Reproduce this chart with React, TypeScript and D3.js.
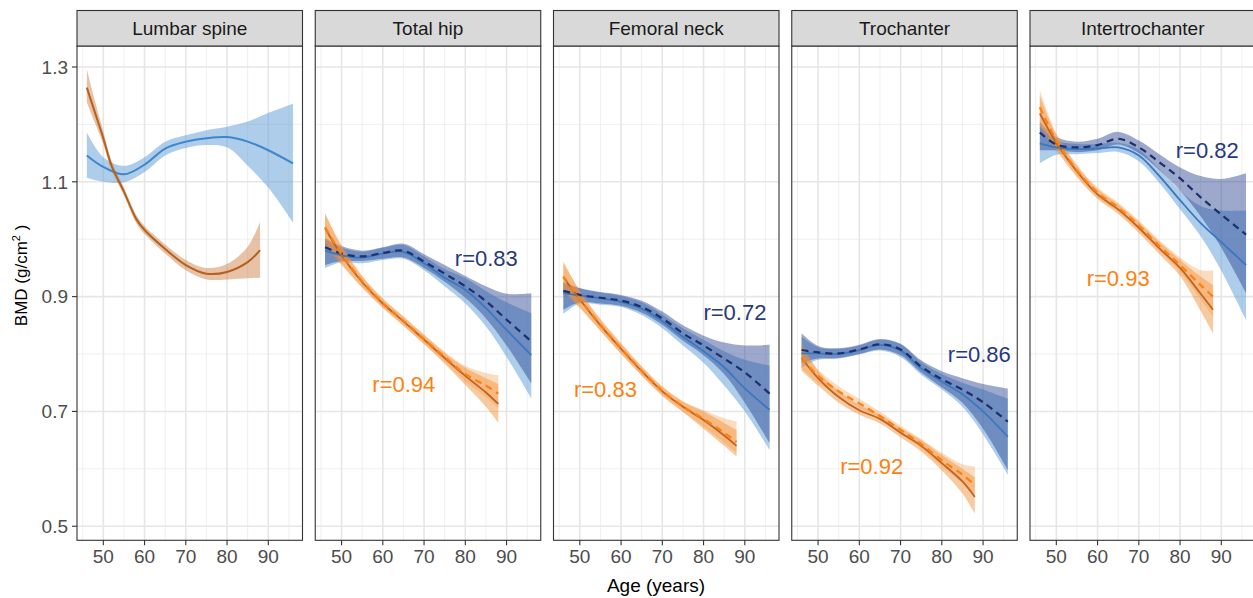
import React from "react";
import * as d3 from "d3";

// ---------------- DATA ----------------
const panelNames = ["Lumbar spine", "Total hip", "Femoral neck", "Trochanter", "Intertrochanter"];
const xTicks = [50, 60, 70, 80, 90];
const xMinor = [45, 55, 65, 75, 85, 95];
const yTicks = [0.5, 0.7, 0.9, 1.1, 1.3];
const yMinor = [0.6, 0.8, 1.0, 1.2];

const agesBlue = [46, 50, 55, 60, 65, 70, 75, 80, 85, 90, 96];
const agesOrange = [46, 50, 55, 60, 65, 70, 75, 80, 85, 88];
const agesLumbarOrange = [46, 48, 50, 52, 55, 58, 60, 65, 70, 75, 80, 85, 88];

// Lumbar spine
const lumbarBlue = [1.146, 1.126, 1.113, 1.130, 1.158, 1.170, 1.176, 1.178, 1.170, 1.155, 1.132];
const lumbarBlueLo = [1.107, 1.100, 1.099, 1.117, 1.146, 1.159, 1.164, 1.160, 1.128, 1.090, 1.029];
const lumbarBlueHi = [1.186, 1.143, 1.128, 1.143, 1.170, 1.181, 1.190, 1.196, 1.205, 1.220, 1.236];
const lumbarOrange = [1.264, 1.220, 1.176, 1.128, 1.083, 1.035, 1.016, 0.983, 0.955, 0.940, 0.943, 0.960, 0.981];
const lumbarOrangeLo = [1.238, 1.202, 1.165, 1.120, 1.076, 1.028, 1.009, 0.975, 0.946, 0.930, 0.930, 0.932, 0.933];
const lumbarOrangeHi = [1.296, 1.240, 1.188, 1.136, 1.090, 1.042, 1.023, 0.991, 0.964, 0.950, 0.957, 0.987, 1.030];

// Total hip
const hipBlue = [0.980, 0.972, 0.968, 0.975, 0.978, 0.958, 0.933, 0.912, 0.880, 0.842, 0.798];
const hipBlueLo = [0.950, 0.960, 0.958, 0.964, 0.966, 0.946, 0.918, 0.888, 0.848, 0.795, 0.723];
const hipBlueHi = [1.000, 0.985, 0.978, 0.985, 0.990, 0.970, 0.948, 0.932, 0.910, 0.890, 0.871];
const hipNavy = [0.986, 0.975, 0.970, 0.976, 0.980, 0.961, 0.940, 0.918, 0.892, 0.860, 0.822];
const hipNavyLo = [0.955, 0.962, 0.962, 0.966, 0.968, 0.950, 0.926, 0.898, 0.862, 0.815, 0.749];
const hipNavyHi = [1.002, 0.988, 0.980, 0.986, 0.992, 0.974, 0.955, 0.936, 0.918, 0.905, 0.906];
const hipOrange = [1.019, 0.972, 0.925, 0.888, 0.857, 0.825, 0.793, 0.762, 0.733, 0.713];
const hipOrangeLo = [0.987, 0.955, 0.915, 0.880, 0.849, 0.817, 0.783, 0.746, 0.708, 0.680];
const hipOrangeHi = [1.045, 0.988, 0.935, 0.896, 0.865, 0.833, 0.802, 0.776, 0.758, 0.748];
const hipOrangeD = [1.021, 0.974, 0.927, 0.889, 0.858, 0.826, 0.795, 0.765, 0.745, 0.731];
const hipOrangeDLo = [0.995, 0.958, 0.917, 0.881, 0.850, 0.818, 0.786, 0.752, 0.725, 0.705];
const hipOrangeDHi = [1.045, 0.990, 0.937, 0.897, 0.866, 0.834, 0.804, 0.779, 0.767, 0.763];

// Femoral neck
const neckBlue = [0.906, 0.902, 0.897, 0.891, 0.879, 0.857, 0.830, 0.805, 0.777, 0.740, 0.703];
const neckBlueLo = [0.870, 0.888, 0.886, 0.882, 0.868, 0.845, 0.815, 0.785, 0.745, 0.700, 0.633];
const neckBlueHi = [0.925, 0.914, 0.907, 0.901, 0.890, 0.869, 0.845, 0.825, 0.805, 0.790, 0.780];
const neckNavy = [0.910, 0.903, 0.898, 0.893, 0.882, 0.862, 0.836, 0.815, 0.792, 0.768, 0.731];
const neckNavyLo = [0.877, 0.890, 0.888, 0.884, 0.872, 0.851, 0.823, 0.798, 0.765, 0.715, 0.645];
const neckNavyHi = [0.925, 0.915, 0.908, 0.903, 0.893, 0.874, 0.850, 0.832, 0.820, 0.815, 0.816];
const neckOrange = [0.934, 0.895, 0.850, 0.809, 0.770, 0.735, 0.708, 0.685, 0.658, 0.640];
const neckOrangeLo = [0.909, 0.880, 0.840, 0.800, 0.762, 0.727, 0.699, 0.670, 0.640, 0.621];
const neckOrangeHi = [0.961, 0.910, 0.860, 0.818, 0.778, 0.743, 0.717, 0.700, 0.680, 0.668];
const neckOrangeD = [0.935, 0.896, 0.851, 0.810, 0.771, 0.736, 0.709, 0.687, 0.663, 0.647];
const neckOrangeDLo = [0.912, 0.882, 0.841, 0.801, 0.763, 0.728, 0.700, 0.674, 0.645, 0.628];
const neckOrangeDHi = [0.958, 0.910, 0.861, 0.819, 0.779, 0.744, 0.718, 0.702, 0.688, 0.682];

// Trochanter
const trochBlue = [0.801, 0.801, 0.800, 0.807, 0.816, 0.806, 0.775, 0.752, 0.730, 0.700, 0.656];
const trochBlueLo = [0.776, 0.790, 0.792, 0.799, 0.806, 0.795, 0.764, 0.738, 0.708, 0.660, 0.590];
const trochBlueHi = [0.830, 0.812, 0.809, 0.815, 0.825, 0.817, 0.786, 0.765, 0.750, 0.738, 0.722];
const trochNavy = [0.807, 0.803, 0.801, 0.808, 0.817, 0.808, 0.778, 0.756, 0.738, 0.716, 0.682];
const trochNavyLo = [0.784, 0.792, 0.793, 0.800, 0.808, 0.798, 0.768, 0.742, 0.715, 0.670, 0.598];
const trochNavyHi = [0.836, 0.814, 0.810, 0.816, 0.826, 0.818, 0.789, 0.770, 0.758, 0.748, 0.740];
const trochOrange = [0.793, 0.758, 0.725, 0.702, 0.687, 0.663, 0.640, 0.610, 0.578, 0.551];
const trochOrangeLo = [0.771, 0.745, 0.715, 0.694, 0.679, 0.655, 0.630, 0.597, 0.557, 0.522];
const trochOrangeHi = [0.819, 0.771, 0.736, 0.711, 0.695, 0.671, 0.650, 0.624, 0.600, 0.585];
const trochOrangeD = [0.793, 0.762, 0.735, 0.714, 0.692, 0.668, 0.643, 0.615, 0.590, 0.572];
const trochOrangeDLo = [0.775, 0.750, 0.726, 0.706, 0.685, 0.661, 0.635, 0.604, 0.575, 0.555];
const trochOrangeDHi = [0.812, 0.773, 0.744, 0.722, 0.700, 0.675, 0.652, 0.628, 0.608, 0.604];

// Intertrochanter
const interBlue = [1.167, 1.160, 1.157, 1.158, 1.160, 1.146, 1.110, 1.068, 1.028, 0.995, 0.955];
const interBlueLo = [1.132, 1.147, 1.148, 1.150, 1.152, 1.136, 1.098, 1.052, 1.005, 0.945, 0.859];
const interBlueHi = [1.198, 1.172, 1.166, 1.166, 1.168, 1.156, 1.122, 1.085, 1.058, 1.050, 1.050];
const interNavy = [1.186, 1.165, 1.160, 1.164, 1.175, 1.160, 1.134, 1.106, 1.073, 1.043, 1.008];
const interNavyLo = [1.155, 1.155, 1.152, 1.155, 1.165, 1.150, 1.120, 1.085, 1.040, 0.985, 0.906];
const interNavyHi = [1.205, 1.178, 1.170, 1.175, 1.187, 1.172, 1.148, 1.125, 1.110, 1.105, 1.115];
const interOrange = [1.219, 1.168, 1.118, 1.078, 1.052, 1.020, 0.984, 0.950, 0.905, 0.877];
const interOrangeLo = [1.196, 1.155, 1.108, 1.070, 1.044, 1.011, 0.974, 0.936, 0.875, 0.836];
const interOrangeHi = [1.250, 1.182, 1.128, 1.087, 1.061, 1.030, 0.995, 0.964, 0.935, 0.920];
const interOrangeD = [1.230, 1.172, 1.120, 1.081, 1.055, 1.024, 0.988, 0.955, 0.920, 0.900];
const interOrangeDLo = [1.205, 1.160, 1.111, 1.073, 1.047, 1.015, 0.979, 0.943, 0.895, 0.865];
const interOrangeDHi = [1.260, 1.185, 1.130, 1.090, 1.064, 1.033, 0.998, 0.968, 0.946, 0.946];

// correlation labels: [panel index, text, age, BMD, group]
const rLabels: [number, string, number, number, string][] = [
  [1, "r=0.83", 85.1, 0.967, "navy"],
  [1, "r=0.94", 65.1, 0.747, "orange"],
  [2, "r=0.72", 87.6, 0.873, "navy"],
  [2, "r=0.83", 56.2, 0.739, "orange"],
  [3, "r=0.86", 89.1, 0.800, "navy"],
  [3, "r=0.92", 63.0, 0.604, "orange"],
  [4, "r=0.82", 86.6, 1.155, "navy"],
  [4, "r=0.93", 65.0, 0.932, "orange"],
];

type Series = { kind: string; ages: number[]; mid: number[]; lo: number[]; hi: number[] };

const mk = (kind: string, ages: number[], mid: number[], lo: number[], hi: number[]): Series => ({ kind, ages, mid, lo, hi });

const panelSeries: Series[][] = [
  [
    mk("lblue", agesBlue, lumbarBlue, lumbarBlueLo, lumbarBlueHi),
    mk("lorange", agesLumbarOrange, lumbarOrange, lumbarOrangeLo, lumbarOrangeHi),
  ],
  [
    mk("blue", agesBlue, hipBlue, hipBlueLo, hipBlueHi),
    mk("navy", agesBlue, hipNavy, hipNavyLo, hipNavyHi),
    mk("orange", agesOrange, hipOrange, hipOrangeLo, hipOrangeHi),
    mk("orangeD", agesOrange, hipOrangeD, hipOrangeDLo, hipOrangeDHi),
  ],
  [
    mk("blue", agesBlue, neckBlue, neckBlueLo, neckBlueHi),
    mk("navy", agesBlue, neckNavy, neckNavyLo, neckNavyHi),
    mk("orange", agesOrange, neckOrange, neckOrangeLo, neckOrangeHi),
    mk("orangeD", agesOrange, neckOrangeD, neckOrangeDLo, neckOrangeDHi),
  ],
  [
    mk("blue", agesBlue, trochBlue, trochBlueLo, trochBlueHi),
    mk("navy", agesBlue, trochNavy, trochNavyLo, trochNavyHi),
    mk("orange", agesOrange, trochOrange, trochOrangeLo, trochOrangeHi),
    mk("orangeD", agesOrange, trochOrangeD, trochOrangeDLo, trochOrangeDHi),
  ],
  [
    mk("blue", agesBlue, interBlue, interBlueLo, interBlueHi),
    mk("navy", agesBlue, interNavy, interNavyLo, interNavyHi),
    mk("orange", agesOrange, interOrange, interOrangeLo, interOrangeHi),
    mk("orangeD", agesOrange, interOrangeD, interOrangeDLo, interOrangeDHi),
  ],
];

// ---------------- STYLE ----------------
const W = 1253;
const H = 598;
const panelLeft0 = 77;
const panelStep = 238.25;
const panelW = 225.5;
const panelTop = 46;
const panelBottom = 540.3;
const stripTop = 10.5;
const FONT = "'Liberation Sans', Arial, Helvetica, sans-serif";

const styles: Record<string, { fill: string; fillOp: number; stroke: string; width: number; dash?: string }> = {
  lblue: { fill: "#5b9bd5", fillOp: 0.5, stroke: "#3f86cb", width: 2 },
  lorange: { fill: "#c9773a", fillOp: 0.45, stroke: "#b5611d", width: 2 },
  blue: { fill: "#5b9bd5", fillOp: 0.5, stroke: "#3a78bf", width: 1.8 },
  navy: { fill: "#23418f", fillOp: 0.45, stroke: "#1e2f6c", width: 2.2, dash: "7,5" },
  orange: { fill: "#f08a2c", fillOp: 0.45, stroke: "#bf6423", width: 1.8 },
  orangeD: { fill: "#f59a45", fillOp: 0.35, stroke: "#ff7f0e", width: 2.2, dash: "7,5" },
};
const labelColor: Record<string, string> = { navy: "#26397a", orange: "#ff800e" };

const yScale = d3.scaleLinear().domain([0.4755, 1.3366]).range([panelBottom, panelTop]);
const curve = d3.curveCatmullRom.alpha(0.5);

function Panel({ idx }: { idx: number }) {
  const left = panelLeft0 + idx * panelStep;
  const x = d3.scaleLinear().domain([43.62, 98.29]).range([left, left + panelW]);
  const y = yScale;
  const series = panelSeries[idx];
  const area = (s: Series) =>
    d3
      .area<number>()
      .x((_, i) => x(s.ages[i]))
      .y0((_, i) => y(s.lo[i]))
      .y1((_, i) => y(s.hi[i]))
      .curve(curve)(s.mid) || "";
  const line = (s: Series) =>
    d3
      .line<number>()
      .x((_, i) => x(s.ages[i]))
      .y((d) => y(d))
      .curve(curve)(s.mid) || "";
  const clipId = `clip${idx}`;
  return (
    <g>
      <defs>
        <clipPath id={clipId}>
          <rect x={left} y={panelTop} width={panelW} height={panelBottom - panelTop} />
        </clipPath>
      </defs>
      <rect x={left} y={panelTop} width={panelW} height={panelBottom - panelTop} fill="#fff" />
      <g clipPath={`url(#${clipId})`}>
        {yMinor.map((t) => (
          <line key={"ym" + t} x1={left} x2={left + panelW} y1={y(t)} y2={y(t)} stroke="#ebebeb" strokeWidth={0.8} />
        ))}
        {xMinor.map((t) => (
          <line key={"xm" + t} x1={x(t)} x2={x(t)} y1={panelTop} y2={panelBottom} stroke="#ebebeb" strokeWidth={0.8} />
        ))}
        {yTicks.map((t) => (
          <line key={"yg" + t} x1={left} x2={left + panelW} y1={y(t)} y2={y(t)} stroke="#e6e6e6" strokeWidth={1.6} />
        ))}
        {xTicks.map((t) => (
          <line key={"xg" + t} x1={x(t)} x2={x(t)} y1={panelTop} y2={panelBottom} stroke="#e6e6e6" strokeWidth={1.6} />
        ))}
        {series.map((s, i) => (
          <path key={"a" + i} d={area(s)} fill={styles[s.kind].fill} fillOpacity={styles[s.kind].fillOp} stroke="none" />
        ))}
        {series.map((s, i) => (
          <path
            key={"l" + i}
            d={line(s)}
            fill="none"
            stroke={styles[s.kind].stroke}
            strokeWidth={styles[s.kind].width}
            strokeDasharray={styles[s.kind].dash}
          />
        ))}
        {rLabels
          .filter((r) => r[0] === idx)
          .map((r, i) => (
            <text
              key={"r" + i}
              x={x(r[2])}
              y={y(r[3])}
              dy="0.36em"
              textAnchor="middle"
              fontSize={22}
              fontFamily={FONT}
              fill={labelColor[r[4]]}
            >
              {r[1]}
            </text>
          ))}
      </g>
      <rect x={left} y={panelTop} width={panelW} height={panelBottom - panelTop} fill="none" stroke="#333" strokeWidth={1.1} />
      {/* strip */}
      <rect x={left} y={stripTop} width={panelW} height={panelTop - stripTop} fill="#d9d9d9" stroke="#333" strokeWidth={1.1} />
      <text
        x={left + panelW / 2}
        y={(stripTop + panelTop) / 2}
        dy="0.36em"
        textAnchor="middle"
        fontSize={19}
        fontFamily={FONT}
        fill="#1a1a1a"
      >
        {panelNames[idx]}
      </text>
      {/* x axis */}
      {xTicks.map((t) => (
        <g key={"xt" + t}>
          <line x1={x(t)} x2={x(t)} y1={panelBottom} y2={panelBottom + 5} stroke="#333" strokeWidth={1.1} />
          <text x={x(t)} y={panelBottom + 8} dy="0.75em" textAnchor="middle" fontSize={19} fontFamily={FONT} fill="#4d4d4d">
            {t}
          </text>
        </g>
      ))}
    </g>
  );
}

export default function App() {
  const y = yScale;
  return (
    <svg
      width={W}
      height={H}
      viewBox={`0 0 ${W} ${H}`}
      style={{ position: "absolute", left: 0, top: 0, display: "block", background: "#fff" }}
    >
      <rect x={0} y={0} width={W} height={H} fill="#fff" />
      {panelNames.map((_, i) => (
        <Panel key={i} idx={i} />
      ))}
      {/* y axis on first panel */}
      {yTicks.map((t) => (
        <g key={"yt" + t}>
          <line x1={panelLeft0 - 5} x2={panelLeft0} y1={y(t)} y2={y(t)} stroke="#333" strokeWidth={1.1} />
          <text x={panelLeft0 - 9} y={y(t)} dy="0.36em" textAnchor="end" fontSize={19} fontFamily={FONT} fill="#4d4d4d">
            {t.toFixed(1)}
          </text>
        </g>
      ))}
      <text
        transform={`translate(21,${(stripTop + panelBottom) / 2}) rotate(-90)`}
        textAnchor="middle"
        dy="0.36em"
        fontSize={17}
        fontFamily={FONT}
        fill="#000"
      >
        BMD (g/cm
        <tspan fontSize={11} dy={-7}>
          2
        </tspan>
        <tspan dy={7}> )</tspan>
      </text>
      <text x={656} y={585} dy="0.36em" textAnchor="middle" fontSize={19} fontFamily={FONT} fill="#000">
        Age (years)
      </text>
    </svg>
  );
}
